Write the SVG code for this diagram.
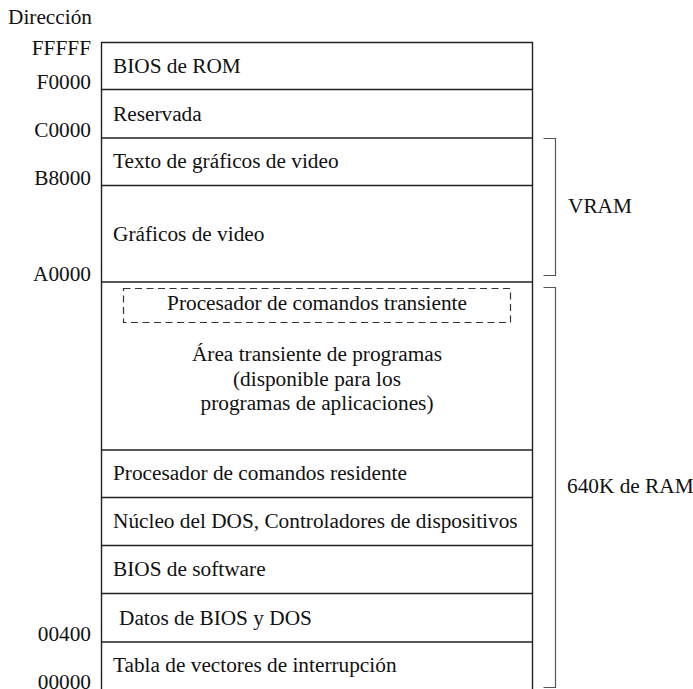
<svg xmlns="http://www.w3.org/2000/svg" width="693" height="689" viewBox="0 0 693 689">
<style>
text{font-family:'Liberation Serif','Times New Roman',Times,'DejaVu Serif',serif;font-size:21.3px;fill:#111}
.addr{text-anchor:end}
.mid{text-anchor:middle}
.box{fill:none;stroke:#222;stroke-width:1.4}
.div{stroke:#222;stroke-width:1.4}
.br{fill:none;stroke:#555;stroke-width:1.2}
.dash{fill:none;stroke:#333;stroke-width:1.2;stroke-dasharray:7 4.5}
</style>
<rect width="693" height="689" fill="#fff"/>
<g id="addresses">
<text x="8" y="24">Dirección</text>
<text class="addr" x="91" y="55">FFFFF</text>
<text class="addr" x="91" y="89">F0000</text>
<text class="addr" x="91" y="137">C0000</text>
<text class="addr" x="91" y="185">B8000</text>
<text class="addr" x="91" y="281">A0000</text>
<text class="addr" x="91" y="641">00400</text>
<text class="addr" x="91" y="689">00000</text>
</g>
<g id="memory-map">
<path class="box" d="M101.5,690 V42.5 H532.5 V690"/>
</g>
<g id="connectors">
<line class="div" x1="101" y1="89.5" x2="533" y2="89.5"/>
<line class="div" x1="101" y1="138" x2="533" y2="138"/>
<line class="div" x1="101" y1="185.5" x2="533" y2="185.5"/>
<line class="div" x1="101" y1="282" x2="533" y2="282"/>
<line class="div" x1="101" y1="450" x2="533" y2="450"/>
<line class="div" x1="101" y1="497.5" x2="533" y2="497.5"/>
<line class="div" x1="101" y1="545.5" x2="533" y2="545.5"/>
<line class="div" x1="101" y1="593.5" x2="533" y2="593.5"/>
<line class="div" x1="101" y1="642" x2="533" y2="642"/>
</g>
<g id="bios-rom"><text x="113" y="73">BIOS de ROM</text></g>
<g id="reservada"><text x="113" y="121">Reservada</text></g>
<g id="texto-graficos"><text x="113" y="168">Texto de gráficos de video</text></g>
<g id="graficos-video"><text x="113" y="241">Gráficos de video</text></g>
<g id="transient-area">
<rect class="dash" x="123.5" y="288.5" width="387" height="34"/>
<text class="mid" x="317" y="310">Procesador de comandos transiente</text>
<text class="mid" x="317" y="361">Área transiente de programas</text>
<text class="mid" x="317" y="386">(disponible para los</text>
<text class="mid" x="317" y="410">programas de aplicaciones)</text>
</g>
<g id="residente"><text x="113" y="480">Procesador de comandos residente</text></g>
<g id="nucleo"><text x="113" y="528">Núcleo del DOS, Controladores de dispositivos</text></g>
<g id="bios-software"><text x="113" y="576">BIOS de software</text></g>
<g id="datos-bios"><text x="119" y="625">Datos de BIOS y DOS</text></g>
<g id="tabla-vectores"><text x="113" y="672">Tabla de vectores de interrupción</text></g>
<g id="vram">
<path class="br" d="M543.5,138.5 H555.5 V275.5 H543.5"/>
<text x="568" y="213">VRAM</text>
</g>
<g id="ram">
<path class="br" d="M543.5,287.5 H555.5 V687.5 H543.5"/>
<text x="567" y="493">640K de RAM</text>
</g>
</svg>
